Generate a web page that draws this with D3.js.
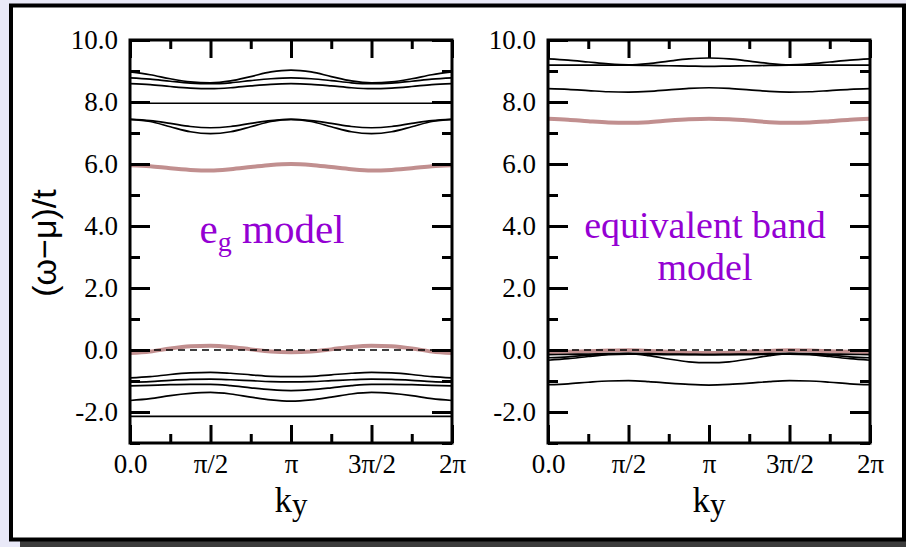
<!DOCTYPE html>
<html><head><meta charset="utf-8">
<script src="https://cdn.jsdelivr.net/npm/d3@7"></script>
<style>
html,body{margin:0;padding:0;background:#e9e9f8;}
svg{display:block;}
</style></head>
<body>
<svg id="chart" width="906" height="547"></svg>
<script>
// ---------- data ----------
const PI = Math.PI;
const kSteps = [0,1,2,3,4,5,6,7,8,9,10,11,12,13,14,15,16]; // k = step * pi/8
const kTickValues = [0, PI/2, PI, 3*PI/2, 2*PI];
const kTickLabels = ["0.0", "\u03c0/2", "\u03c0", "3\u03c0/2", "2\u03c0"];
const kMinorTicks = [PI/4, 3*PI/4, 5*PI/4, 7*PI/4];
const yTickValues = [-2, 0, 2, 4, 6, 8, 10];
const yTickLabels = ["-2.0", "0.0", "2.0", "4.0", "6.0", "8.0", "10.0"];
const yMinorTicks = [-3, -1, 1, 3, 5, 7, 9];

// e_g model bands
const egBlack = [
  [8.97, 8.88, 8.75, 8.65, 8.62, 8.68, 8.82, 8.97, 9.03, 8.97, 8.82, 8.68, 8.62, 8.65, 8.75, 8.88, 8.97],
  [8.78, 8.74, 8.67, 8.61, 8.59, 8.62, 8.69, 8.75, 8.78, 8.75, 8.69, 8.62, 8.59, 8.61, 8.67, 8.74, 8.78],
  [8.59, 8.56, 8.50, 8.45, 8.43, 8.46, 8.52, 8.57, 8.59, 8.57, 8.52, 8.46, 8.43, 8.45, 8.50, 8.56, 8.59],
  [7.96, 7.96, 7.96, 7.96, 7.96, 7.96, 7.96, 7.96, 7.96, 7.96, 7.96, 7.96, 7.96, 7.96, 7.96, 7.96, 7.96],
  [7.44, 7.40, 7.31, 7.21, 7.17, 7.21, 7.31, 7.40, 7.44, 7.40, 7.31, 7.21, 7.17, 7.21, 7.31, 7.40, 7.44],
  [7.44, 7.37, 7.20, 7.04, 6.98, 7.04, 7.20, 7.37, 7.44, 7.37, 7.20, 7.04, 6.98, 7.04, 7.20, 7.37, 7.44],
  [-0.90, -0.86, -0.79, -0.74, -0.72, -0.75, -0.80, -0.85, -0.86, -0.85, -0.80, -0.75, -0.72, -0.74, -0.79, -0.86, -0.90],
  [-1.04, -1.02, -0.98, -0.95, -0.94, -0.96, -0.99, -1.02, -1.03, -1.02, -0.99, -0.96, -0.94, -0.95, -0.98, -1.02, -1.04],
  [-1.16, -1.14, -1.12, -1.11, -1.11, -1.15, -1.22, -1.28, -1.31, -1.28, -1.22, -1.15, -1.11, -1.11, -1.12, -1.14, -1.16],
  [-1.63, -1.57, -1.47, -1.40, -1.37, -1.42, -1.52, -1.61, -1.65, -1.61, -1.52, -1.42, -1.37, -1.40, -1.47, -1.57, -1.63],
  [-2.14, -2.14, -2.14, -2.14, -2.14, -2.14, -2.14, -2.14, -2.14, -2.14, -2.14, -2.14, -2.14, -2.14, -2.14, -2.14, -2.14]
];
const egPink = [
  [5.96, 5.93, 5.86, 5.81, 5.79, 5.83, 5.90, 5.97, 6.00, 5.97, 5.90, 5.83, 5.79, 5.81, 5.86, 5.93, 5.96],
  [-0.10, -0.05, 0.05, 0.12, 0.14, 0.10, 0.02, -0.05, -0.07, -0.05, 0.02, 0.10, 0.14, 0.12, 0.05, -0.05, -0.10]
];
// equivalent band model
const eqBlack = [
  [9.39, 9.35, 9.29, 9.23, 9.20, 9.24, 9.32, 9.39, 9.42, 9.39, 9.32, 9.24, 9.20, 9.23, 9.29, 9.35, 9.39],
  [9.19, 9.19, 9.19, 9.19, 9.19, 9.18, 9.17, 9.16, 9.15, 9.16, 9.17, 9.18, 9.19, 9.19, 9.19, 9.19, 9.19],
  [8.43, 8.41, 8.37, 8.33, 8.32, 8.34, 8.39, 8.44, 8.46, 8.44, 8.39, 8.34, 8.32, 8.33, 8.37, 8.41, 8.43],
  [-0.15, -0.14, -0.13, -0.12, -0.11, -0.12, -0.13, -0.14, -0.15, -0.14, -0.13, -0.12, -0.11, -0.12, -0.13, -0.14, -0.15],
  [-0.25, -0.22, -0.17, -0.13, -0.12, -0.18, -0.29, -0.38, -0.41, -0.38, -0.29, -0.18, -0.12, -0.13, -0.17, -0.22, -0.25],
  [-0.33, -0.28, -0.21, -0.15, -0.13, -0.14, -0.15, -0.15, -0.15, -0.15, -0.15, -0.14, -0.13, -0.15, -0.21, -0.28, -0.33],
  [-1.12, -1.09, -1.04, -1.00, -0.99, -1.02, -1.07, -1.11, -1.13, -1.11, -1.07, -1.02, -0.99, -1.00, -1.04, -1.09, -1.12]
];
const eqPink = [
  [7.46, 7.43, 7.38, 7.34, 7.33, 7.35, 7.40, 7.44, 7.46, 7.44, 7.40, 7.35, 7.33, 7.34, 7.38, 7.43, 7.46],
  [-0.07, -0.06, -0.04, -0.02, -0.01, -0.03, -0.06, -0.09, -0.10, -0.09, -0.06, -0.03, -0.01, -0.02, -0.04, -0.06, -0.07]
];

// ---------- drawing ----------
const svg = d3.select("#chart");
const serif = "'Liberation Serif','Times New Roman',serif";
const purple = "#9400d3";
const pink = "#c18f8f";

svg.append("rect").attr("x", 20).attr("y", 541).attr("width", 900).attr("height", 10).attr("fill", "#3c3c3c");
svg.append("rect").attr("x", 11).attr("y", 5.5).attr("width", 893).attr("height", 534)
  .attr("fill", "#fff").attr("stroke", "#000").attr("stroke-width", 4);

const yScale = d3.scaleLinear().domain([-3, 10]).range([443, 40]);

function panel(x0, x1, black, pinkBands, texts) {
  const x = d3.scaleLinear().domain([0, 2*PI]).range([x0, x1]);
  const g = svg.append("g");
  const line = d3.line().x((d, i) => x(kSteps[i]*PI/8)).y(d => yScale(d)).curve(d3.curveMonotoneX);

  pinkBands.forEach(b => g.append("path").attr("d", line(b)).attr("fill", "none")
    .attr("stroke", pink).attr("stroke-width", 4));
  g.append("line").attr("x1", x0).attr("x2", x1).attr("y1", yScale(0)).attr("y2", yScale(0))
    .attr("stroke", "#000").attr("stroke-width", 1.6).attr("stroke-dasharray", "7,5");
  black.forEach(b => g.append("path").attr("d", line(b)).attr("fill", "none")
    .attr("stroke", "#000").attr("stroke-width", 1.7));

  const styleAxis = sel => {
    sel.select(".domain").remove();
    sel.selectAll(".tick line").attr("stroke", "#000").attr("stroke-width", 3);
    sel.selectAll("text").attr("font-family", serif).attr("font-size", 27).attr("fill", "#000");
  };
  g.append("g").attr("transform", `translate(${x0},0)`)
    .call(d3.axisLeft(yScale).tickValues(yTickValues).tickSize(-20).tickPadding(12)
      .tickFormat((d, i) => yTickLabels[i])).call(styleAxis);
  g.append("g").attr("transform", `translate(${x0},0)`)
    .call(d3.axisLeft(yScale).tickValues(yMinorTicks).tickSize(-10).tickFormat("")).call(styleAxis);
  g.append("g").attr("transform", `translate(${x1},0)`)
    .call(d3.axisRight(yScale).tickValues(yTickValues).tickSize(-20).tickFormat("")).call(styleAxis);
  g.append("g").attr("transform", `translate(${x1},0)`)
    .call(d3.axisRight(yScale).tickValues(yMinorTicks).tickSize(-10).tickFormat("")).call(styleAxis);
  g.append("g").attr("transform", `translate(0,443)`)
    .call(d3.axisBottom(x).tickValues(kTickValues).tickSize(-18).tickPadding(11)
      .tickFormat((d, i) => kTickLabels[i])).call(styleAxis);
  g.append("g").attr("transform", `translate(0,443)`)
    .call(d3.axisBottom(x).tickValues(kMinorTicks).tickSize(-9).tickFormat("")).call(styleAxis);
  g.append("g").attr("transform", `translate(0,40)`)
    .call(d3.axisTop(x).tickValues(kTickValues).tickSize(-18).tickFormat("")).call(styleAxis);
  g.append("g").attr("transform", `translate(0,40)`)
    .call(d3.axisTop(x).tickValues(kMinorTicks).tickSize(-9).tickFormat("")).call(styleAxis);
  g.append("rect").attr("x", x0).attr("y", 40).attr("width", x1 - x0).attr("height", 403)
    .attr("fill", "none").attr("stroke", "#000").attr("stroke-width", 3);

  const t = g.append("text").attr("x", (x0 + x1)/2).attr("y", 512).attr("text-anchor", "middle")
    .attr("font-family", serif).attr("font-size", 35);
  t.append("tspan").text("k");
  t.append("tspan").attr("font-size", 31).attr("dy", 3).text("y");

  texts(g, x);
}

panel(130, 452, egBlack, egPink, (g, x) => {
  const t = g.append("text").attr("x", 272).attr("y", 243).attr("text-anchor", "middle")
    .attr("font-family", serif).attr("font-size", 41).attr("fill", purple);
  t.append("tspan").text("e");
  t.append("tspan").attr("font-size", 28).attr("dy", 8).text("g");
  t.append("tspan").attr("dy", -8).text(" model");
});
panel(548, 870, eqBlack, eqPink, (g, x) => {
  g.append("text").attr("x", 705).attr("y", 238).attr("text-anchor", "middle")
    .attr("font-family", serif).attr("font-size", 38).attr("fill", purple).text("equivalent band");
  g.append("text").attr("x", 705).attr("y", 280).attr("text-anchor", "middle")
    .attr("font-family", serif).attr("font-size", 38).attr("fill", purple).text("model");
});

svg.append("text").attr("transform", "translate(56,243) rotate(-90)").attr("text-anchor", "middle")
  .attr("font-family", "'Liberation Sans',Arial,sans-serif").attr("font-size", 34)
  .text("(\u03c9\u2212\u03bc)/t");
</script>
</body></html>
